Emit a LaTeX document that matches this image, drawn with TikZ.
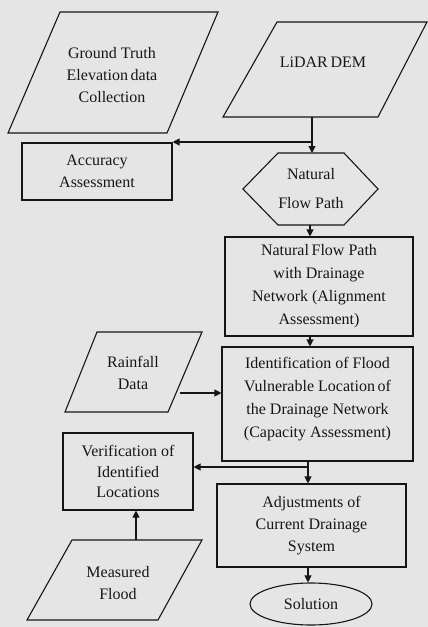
\documentclass[tikz,border=0pt]{standalone}
\usepackage{fontspec}
\setmainfont{Liberation Serif}
\usetikzlibrary{arrows.meta,shapes.geometric}
\definecolor{bg}{RGB}{229,229,229}
\definecolor{ink}{RGB}{22,22,22}
\begin{document}
\begin{tikzpicture}[x=1pt,y=-1pt,line width=1.1pt,
  lbl/.style={align=center,inner sep=0pt,text=ink,font=\fontsize{16}{22}\selectfont},
  box/.style={lbl,draw=ink,rectangle},
  outline/.style={draw=ink,line join=miter},
  arr/.style={draw=ink,-{Triangle[length=7pt,width=7pt]}},
  plain/.style={draw=ink}]
\fill[bg] (0,0) rectangle (428,627);
\useasboundingbox (0,0) rectangle (428,627);

% Ground Truth parallelogram
\coordinate (gt1) at (60,12);  \coordinate (gt2) at (218,12);
\coordinate (gt3) at (167,133);\coordinate (gt4) at (8,133);
\draw[outline] (gt1) -- (gt2) -- (gt3) -- (gt4) -- cycle;
\node[lbl] (gt) at (112,75) {Ground Truth\\Elevation\,data\\Collection};

% LiDAR DEM parallelogram
\coordinate (ld1) at (277,22);  \coordinate (ld2) at (427,22);
\coordinate (ld3) at (378,117); \coordinate (ld4) at (223,117);
\draw[outline] (ld1) -- (ld2) -- (ld3) -- (ld4) -- cycle;
\node[lbl] (ld) at (323,62) {LiDAR\,DEM};
\coordinate (ldb) at (312,117);

% Accuracy Assessment
\node[box,minimum width=150pt,minimum height=57pt] (acc) at (97,171.5) {Accuracy\\Assessment};

% Natural Flow Path hexagon
\coordinate (hx1) at (278,153); \coordinate (hx2) at (344,153);
\coordinate (hx3) at (378,189); \coordinate (hx4) at (344,225);
\coordinate (hx5) at (278,225); \coordinate (hx6) at (243,189);
\draw[outline] (hx1) -- (hx2) -- (hx3) -- (hx4) -- (hx5) -- (hx6) -- cycle;
\node[lbl,font=\fontsize{16}{29}\selectfont] (hex) at (311,189) {Natural\\Flow Path};
\coordinate (hxt) at (312,153);
\coordinate (hxb) at (310,225);

% Natural Flow Path with Drainage Network
\node[box,minimum width=188pt,minimum height=99pt,font=\fontsize{16}{23}\selectfont] (nfp) at (319,286.5)
  {Natural\,Flow Path\\with Drainage\\Network (Alignment\\Assessment)};

% Identification
\node[box,minimum width=191pt,minimum height=114pt,text depth=14pt,font=\fontsize{16}{23}\selectfont] (idf) at (317.5,404)
  {Identification of Flood\\Vulnerable Location\,of\\the Drainage Network\\(Capacity Assessment)};

% Rainfall parallelogram
\coordinate (rf1) at (97,332);  \coordinate (rf2) at (202,332);
\coordinate (rf3) at (168,412); \coordinate (rf4) at (65,412);
\draw[outline] (rf1) -- (rf2) -- (rf3) -- (rf4) -- cycle;
\node[lbl] (rf) at (133,373) {Rainfall\\Data};
\coordinate (rfr) at (180,393);

% Verification
\node[box,minimum width=130pt,minimum height=77pt,font=\fontsize{16}{20.5}\selectfont] (ver) at (128,471.5)
  {Verification of\\Identified\\Locations};

% Adjustments
\node[box,minimum width=189pt,minimum height=83pt] (adj) at (311.5,525.5)
  {Adjustments of\\Current Drainage\\System};

% Measured Flood parallelogram
\coordinate (mf1) at (72,540);  \coordinate (mf2) at (202,540);
\coordinate (mf3) at (158,620); \coordinate (mf4) at (27,620);
\draw[outline] (mf1) -- (mf2) -- (mf3) -- (mf4) -- cycle;
\node[lbl] (mf) at (118,583) {Measured\\Flood};
\coordinate (mft) at (136,540);

% Solution ellipse
\node[lbl,draw=ink,ellipse,minimum width=122pt,minimum height=42pt,inner sep=0pt] (sol) at (311,604) {Solution};

% Connectors
\coordinate (j1) at (312,142);
\draw[arr] (ldb) -- (hxt);
\draw[arr] (j1) -- (acc.north east |- j1);
\draw[arr] (hxb) -- (hxb |- nfp.north);
\draw[arr] (nfp.south -| hxb) -- (idf.north -| hxb);
\draw[arr] (rfr) -- (idf.west |- rfr);
\coordinate (j2) at (308,467);
\draw[arr] (idf.south -| j2) -- (adj.north -| j2);
\draw[arr] (j2) -- (ver.east |- j2);
\draw[arr] (mft) -- (ver.south -| mft);
\draw[arr] (adj.south -| j2) -- (sol.north -| j2);
\end{tikzpicture}
\end{document}
